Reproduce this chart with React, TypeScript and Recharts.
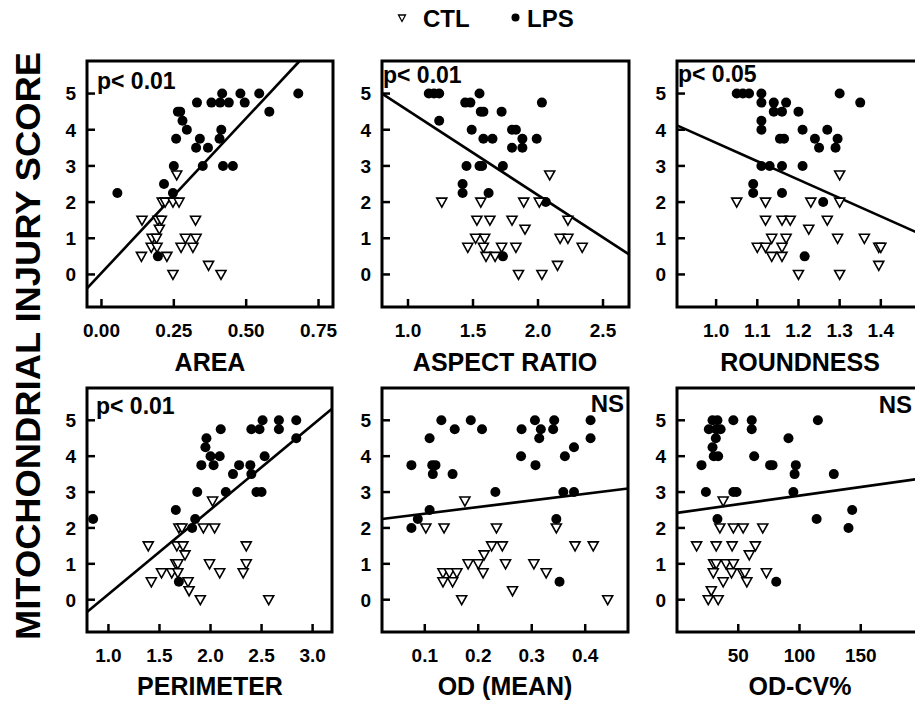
import React from "react";
import {
  ReferenceArea,
  ReferenceLine,
  Scatter,
  ScatterChart,
  XAxis,
  YAxis,
} from "recharts";

type Pt = [number, number];

const FONT = '"Liberation Sans", Arial, Helvetica, sans-serif';

// shared score axis
const scoreTicks = [0, 1, 2, 3, 4, 5];
const scoreDomain: [number, number] = [-0.9, 5.9];

// AREA
const areaLps: Pt[] = [
  [0.055, 2.25], [0.68, 5], [0.58, 4.5], [0.545, 5], [0.48, 5], [0.495, 4.75],
  [0.417, 5], [0.38, 4.75], [0.41, 4.75], [0.44, 4.75], [0.33, 4.75], [0.264, 4.5],
  [0.272, 4.5], [0.28, 4.25], [0.295, 4], [0.258, 3.75], [0.414, 4], [0.408, 3.75],
  [0.34, 3.75], [0.327, 3.5], [0.368, 3.5], [0.35, 3], [0.42, 3], [0.454, 3],
  [0.25, 3], [0.216, 2.5], [0.247, 2.25], [0.195, 0.5],
];
const areaCtl: Pt[] = [
  [0.26, 2.75], [0.21, 2], [0.22, 2], [0.247, 2], [0.268, 2], [0.14, 1.5],
  [0.195, 1.5], [0.207, 1.5], [0.325, 1.5], [0.2, 1.25], [0.175, 1], [0.19, 1],
  [0.29, 1], [0.327, 1], [0.172, 0.75], [0.192, 0.75], [0.275, 0.75], [0.316, 0.75],
  [0.138, 0.5], [0.226, 0.5], [0.37, 0.25], [0.247, 0], [0.413, 0],
];

// ASPECT RATIO
const aspectLps: Pt[] = [
  [1.16, 5], [1.2, 5], [1.24, 5], [1.24, 4.25], [1.55, 5], [1.44, 4.75], [1.48, 4.75],
  [1.56, 4.5], [1.58, 4.5], [1.72, 4.5], [2.03, 4.75], [1.49, 4], [1.58, 3.75],
  [1.65, 3.75], [1.8, 4], [1.83, 4], [1.88, 3.75], [1.8, 3.5], [1.88, 3.5],
  [1.99, 3.75], [1.45, 3], [1.55, 3], [1.57, 3], [1.73, 3], [1.42, 2.5], [1.42, 2.25],
  [1.62, 2.25], [2.06, 2], [1.73, 0.5],
];
const aspectCtl: Pt[] = [
  [1.26, 2], [1.56, 2], [1.89, 2], [2.01, 2], [2.09, 2.75], [1.53, 1.5], [1.63, 1.5],
  [1.8, 1.5], [2.23, 1.5], [1.9, 1.25], [1.52, 1], [1.59, 1], [2.17, 1], [2.23, 1],
  [1.46, 0.75], [1.58, 0.75], [1.72, 0.75], [1.83, 0.75], [2.34, 0.75], [1.6, 0.5],
  [1.67, 0.5], [2.15, 0.25], [1.85, 0], [2.03, 0],
];

// ROUNDNESS
const roundLps: Pt[] = [
  [1.05, 5], [1.065, 5], [1.08, 5], [1.11, 5], [1.11, 4.75], [1.14, 4.75], [1.17, 4.75],
  [1.14, 4.5], [1.16, 4.5], [1.2, 4.5], [1.3, 5], [1.35, 4.75], [1.11, 4.25], [1.11, 4],
  [1.21, 4], [1.27, 4], [1.24, 3.75], [1.295, 3.75], [1.155, 3.75], [1.165, 3.75],
  [1.25, 3.5], [1.29, 3.5], [1.11, 3], [1.13, 3], [1.16, 3], [1.21, 3], [1.09, 2.5],
  [1.09, 2.25], [1.16, 2.25], [1.26, 2], [1.215, 0.5],
];
const roundCtl: Pt[] = [
  [1.05, 2], [1.12, 2], [1.23, 2], [1.3, 2], [1.3, 2.75], [1.12, 1.5], [1.16, 1.5],
  [1.18, 1.5], [1.27, 1.5], [1.225, 1.25], [1.135, 1], [1.17, 1], [1.295, 1], [1.36, 1],
  [1.1, 0.75], [1.12, 0.75], [1.16, 0.75], [1.395, 0.75], [1.4, 0.75], [1.135, 0.5],
  [1.16, 0.5], [1.395, 0.25], [1.2, 0], [1.3, 0],
];

// PERIMETER
const perimLps: Pt[] = [
  [0.85, 2.25], [2.51, 5], [2.67, 5], [2.84, 5], [2.4, 4.75], [2.48, 4.75], [2.67, 4.75],
  [2.1, 4.75], [2.84, 4.5], [1.96, 4.5], [1.95, 4.25], [2.0, 4], [2.09, 4], [1.91, 3.75],
  [2.03, 3.75], [2.28, 3.75], [2.39, 3.75], [2.22, 3.5], [2.4, 3.5], [2.53, 4],
  [1.87, 3], [2.15, 3], [2.45, 3], [2.5, 3], [1.66, 2.5], [1.85, 2.25], [1.82, 2],
  [1.69, 0.5],
];
const perimCtl: Pt[] = [
  [2.02, 2.75], [1.69, 2], [1.72, 2], [1.93, 2], [2.04, 2], [1.39, 1.5], [1.67, 1.5],
  [1.73, 1.5], [2.35, 1.5], [1.75, 1.25], [1.66, 1], [1.68, 1], [1.99, 1], [2.35, 1],
  [1.52, 0.75], [1.62, 0.75], [1.68, 0.75], [2.09, 0.75], [2.32, 0.75], [1.42, 0.5],
  [1.78, 0.5], [1.79, 0.25], [1.9, 0], [2.57, 0],
];

// OD (MEAN)
const odLps: Pt[] = [
  [0.075, 3.75], [0.075, 2], [0.087, 2.25], [0.109, 2.5], [0.109, 4.5], [0.114, 3.75],
  [0.12, 3.75], [0.115, 3.5], [0.131, 5], [0.156, 4.75], [0.152, 3.5], [0.186, 5],
  [0.207, 4.75], [0.232, 3], [0.281, 4.75], [0.28, 4], [0.306, 5], [0.307, 3.75],
  [0.314, 4.5], [0.317, 4.75], [0.342, 5], [0.34, 4.75], [0.346, 2.25], [0.352, 0.5],
  [0.362, 4], [0.359, 3], [0.379, 3], [0.379, 4.25], [0.41, 5], [0.41, 4.5],
];
const odCtl: Pt[] = [
  [0.102, 2], [0.136, 2], [0.175, 2.75], [0.234, 2], [0.346, 2], [0.134, 0.75],
  [0.146, 0.75], [0.16, 0.75], [0.134, 0.5], [0.152, 0.5], [0.181, 1], [0.2, 1],
  [0.209, 0.75], [0.211, 1.25], [0.225, 1.5], [0.245, 1.5], [0.251, 1], [0.169, 0],
  [0.264, 0.25], [0.304, 1], [0.327, 0.75], [0.381, 1.5], [0.415, 1.5], [0.442, 0],
];

// OD-CV%
const cvLps: Pt[] = [
  [20, 3.75], [23.6, 3], [29, 5], [33, 5], [26, 4.75], [32, 4.75], [35.6, 4.75],
  [31.7, 4.5], [29, 4.25], [30, 4], [33.6, 4], [33, 2.25], [46, 5], [46, 3], [48.6, 3],
  [61, 5], [61, 4.75], [63, 4], [76, 3.75], [78, 3.75], [81, 0.5], [91, 4.5],
  [97, 3.75], [96, 3.5], [95, 3], [115, 5], [114, 2.25], [128, 3.5], [140, 2], [143, 2.5],
];
const cvCtl: Pt[] = [
  [37.7, 2.75], [16, 1.5], [32, 1.5], [45, 1.5], [64, 1.5], [35, 2], [46, 2], [54, 2],
  [70, 2], [30, 1], [32, 1], [40, 1], [46, 1], [29.6, 0.75], [44.5, 0.75], [53.5, 0.75],
  [55.4, 0.75], [73, 0.75], [59, 1.25], [37.7, 0.5], [57, 0.5], [28, 0.25], [25.5, 0],
  [33.6, 0],
];

// regression lines: [intercept, slope]
const areaFit: Pt = [0.04, 8.56];
const aspectFit: Pt = [6.872, -2.34];
const roundFit: Pt = [8.717, -5.08];
const perimFit: Pt = [-2.208, 2.36];
const odFit: Pt = [2.213, 1.848];
const cvFit: Pt = [2.42, 0.0048];

const rows = (pts: Pt[]) => pts.map(([x, y]) => ({ x, y }));

// clip y = a + b*x to the plotting box
function fitSegment(fit: Pt, xd: number[], yd: number[]) {
  const [a, b] = fit;
  const clamp = (x: number) => {
    const y = a + b * x;
    if (y > yd[1]) return { x: (yd[1] - a) / b, y: yd[1] };
    if (y < yd[0]) return { x: (yd[0] - a) / b, y: yd[0] };
    return { x, y };
  };
  return [clamp(xd[0]), clamp(xd[1])];
}

const Dot = (props: any) => {
  const { cx, cy } = props;
  if (cx == null || cy == null) return null;
  return <circle cx={cx} cy={cy} r={5} fill="#000" />;
};

const Tri = (props: any) => {
  const { cx, cy } = props;
  if (cx == null || cy == null) return null;
  return (
    <path
      d={`M${cx - 5},${cy - 4}L${cx + 5},${cy - 4}L${cx},${cy + 5}Z`}
      fill="#fff"
      stroke="#000"
      strokeWidth={1.6}
    />
  );
};

const PAD_L = 60;
const PAD_T = 10;

interface PanelProps {
  left: number;
  top: number;
  w: number;
  h: number;
  xDomain: [number, number];
  xTicks: number[];
  digits: number;
  lps: Pt[];
  ctl: Pt[];
  fit: Pt;
}

function Panel({ left, top, w, h, xDomain, xTicks, digits, lps, ctl, fit }: PanelProps) {
  const seg = fitSegment(fit, xDomain, scoreDomain);
  const bottom = PAD_T + h;

  // inward tick mark + bold label
  const xTick = (p: any) => (
    <g>
      <line x1={p.x} x2={p.x} y1={bottom} y2={bottom - 8} stroke="#000" strokeWidth={2.5} />
      <text
        x={p.x}
        y={bottom + 30}
        textAnchor="middle"
        fontFamily={FONT}
        fontWeight={700}
        fontSize={19}
        fill="#000"
      >
        {Number(p.payload.value).toFixed(digits)}
      </text>
    </g>
  );
  const yTick = (p: any) => (
    <g>
      <line x1={PAD_L} x2={PAD_L + 8} y1={p.y} y2={p.y} stroke="#000" strokeWidth={2.5} />
      <text
        x={PAD_L - 11}
        y={p.y}
        dy="0.36em"
        textAnchor="end"
        fontFamily={FONT}
        fontWeight={700}
        fontSize={19}
        fill="#000"
      >
        {p.payload.value}
      </text>
    </g>
  );

  return (
    <div style={{ position: "absolute", left: left - PAD_L, top: top - PAD_T }}>
      <ScatterChart
        width={w + PAD_L + 10}
        height={h + PAD_T + 40}
        margin={{ top: PAD_T, right: 10, bottom: 0, left: 0 }}
      >
        <XAxis
          type="number"
          dataKey="x"
          domain={xDomain}
          ticks={xTicks}
          interval={0}
          allowDataOverflow
          height={40}
          axisLine={false}
          tickLine={false}
          tick={xTick}
        />
        <YAxis
          type="number"
          dataKey="y"
          domain={scoreDomain}
          ticks={scoreTicks}
          interval={0}
          allowDataOverflow
          width={PAD_L}
          axisLine={false}
          tickLine={false}
          tick={yTick}
        />
        <Scatter data={rows(lps)} shape={Dot} isAnimationActive={false} />
        <Scatter data={rows(ctl)} shape={Tri} isAnimationActive={false} />
        <ReferenceLine segment={seg} stroke="#000" strokeWidth={2.6} ifOverflow="visible" />
        <ReferenceArea
          x1={xDomain[0]}
          x2={xDomain[1]}
          y1={scoreDomain[0]}
          y2={scoreDomain[1]}
          fill="none"
          fillOpacity={0}
          stroke="#000"
          strokeWidth={3}
          ifOverflow="visible"
        />
      </ScatterChart>
    </div>
  );
}

export default function App() {
  const txt = { fontFamily: FONT, fontWeight: 700, fill: "#000" };
  return (
    <div
      style={{
        position: "fixed",
        left: 0,
        top: 0,
        width: 915,
        height: 703,
        overflow: "hidden",
        background: "#fff",
      }}
    >
      <Panel left={87} top={61} w={246} h={246} xDomain={[-0.05, 0.8]} xTicks={[0, 0.25, 0.5, 0.75]} digits={2} lps={areaLps} ctl={areaCtl} fit={areaFit} />
      <Panel left={382} top={61} w={247} h={246} xDomain={[0.8, 2.7]} xTicks={[1, 1.5, 2, 2.5]} digits={1} lps={aspectLps} ctl={aspectCtl} fit={aspectFit} />
      <Panel left={677} top={61} w={245} h={246} xDomain={[0.905, 1.5]} xTicks={[1, 1.1, 1.2, 1.3, 1.4]} digits={1} lps={roundLps} ctl={roundCtl} fit={roundFit} />
      <Panel left={87} top={388} w={245} h={244} xDomain={[0.79, 3.19]} xTicks={[1, 1.5, 2, 2.5, 3]} digits={1} lps={perimLps} ctl={perimCtl} fit={perimFit} />
      <Panel left={382} top={388} w={246} h={244} xDomain={[0.02, 0.48]} xTicks={[0.1, 0.2, 0.3, 0.4]} digits={1} lps={odLps} ctl={odCtl} fit={odFit} />
      <Panel left={677} top={388} w={245} h={244} xDomain={[0, 200]} xTicks={[50, 100, 150]} digits={0} lps={cvLps} ctl={cvCtl} fit={cvFit} />

      <svg width={915} height={703} style={{ position: "absolute", left: 0, top: 0, pointerEvents: "none" }}>
        {/* legend */}
        <path d="M398.5,15L405.5,15L402,21.5Z" fill="#fff" stroke="#000" strokeWidth={1.3} />
        <text x={423} y={27} fontSize={24} {...txt}>CTL</text>
        <circle cx={515.5} cy={17.5} r={4} fill="#000" />
        <text x={527} y={27} fontSize={24} {...txt}>LPS</text>

        {/* shared y title */}
        <text
          x={27}
          y={346}
          transform="rotate(-90 27 346)"
          textAnchor="middle"
          dominantBaseline="central"
          fontSize={35}
          textLength={588}
          lengthAdjust="spacingAndGlyphs"
          {...txt}
        >
          MITOCHONDRIAL INJURY SCORE
        </text>

        {/* x titles */}
        <text x={210} y={371} textAnchor="middle" fontSize={25} {...txt}>AREA</text>
        <text x={505} y={371} textAnchor="middle" fontSize={25} {...txt}>ASPECT RATIO</text>
        <text x={800} y={371} textAnchor="middle" fontSize={25} {...txt}>ROUNDNESS</text>
        <text x={210} y={695} textAnchor="middle" fontSize={25} {...txt}>PERIMETER</text>
        <text x={505} y={695} textAnchor="middle" fontSize={25} {...txt}>OD (MEAN)</text>
        <text x={800} y={695} textAnchor="middle" fontSize={25} {...txt}>OD-CV%</text>

        {/* significance notes */}
        <text x={97} y={89} fontSize={23} {...txt}>p&lt; 0.01</text>
        <text x={383} y={83} fontSize={23} {...txt}>p&lt; 0.01</text>
        <text x={678} y={82} fontSize={23} {...txt}>p&lt; 0.05</text>
        <text x={96} y={414} fontSize={23} {...txt}>p&lt; 0.01</text>
        <text x={624} y={412} textAnchor="end" fontSize={24} {...txt}>NS</text>
        <text x={912} y={413} textAnchor="end" fontSize={24} {...txt}>NS</text>
      </svg>
    </div>
  );
}
